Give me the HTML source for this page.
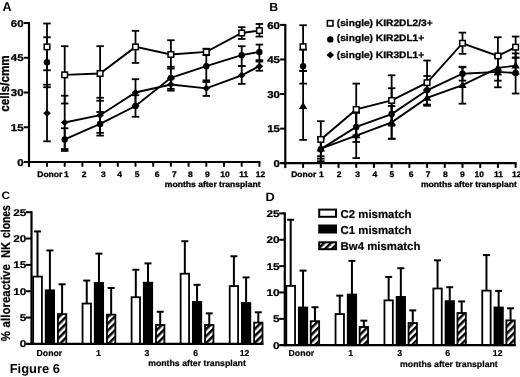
<!DOCTYPE html>
<html><head><meta charset="utf-8"><title>Figure 6</title>
<style>html,body{margin:0;padding:0;background:#fff;}svg{display:block;filter:grayscale(1);text-rendering:geometricPrecision;}</style></head>
<body>
<svg width="520" height="377" viewBox="0 0 520 377" font-family="Liberation Sans, sans-serif" font-weight="bold" fill="#000"><style>.s text, text.s{stroke:#000;stroke-width:0.3px;stroke-linejoin:round}text.s2{stroke:#000;stroke-width:0.2px;stroke-linejoin:round}</style>
<defs><pattern id="hatch" patternUnits="userSpaceOnUse" width="4.9" height="4.9" patternTransform="rotate(-45)"><rect width="4.9" height="4.9" fill="#fff"/><rect y="0" width="4.9" height="2.5" fill="#000"/></pattern><pattern id="hatch2" patternUnits="userSpaceOnUse" width="4.9" height="4.9" patternTransform="rotate(-45) translate(0,2.87)"><rect width="4.9" height="4.9" fill="#fff"/><rect y="0" width="4.9" height="2.5" fill="#000"/></pattern></defs>
<rect width="520" height="377" fill="#fff"/>
<g class="s">
<line x1="47.00" y1="84.71" x2="47.00" y2="141.32" stroke="#000" stroke-width="1.8" />
<line x1="43.25" y1="84.71" x2="50.75" y2="84.71" stroke="#000" stroke-width="1.8" />
<line x1="43.25" y1="141.32" x2="50.75" y2="141.32" stroke="#000" stroke-width="1.8" />
<line x1="64.70" y1="95.71" x2="64.70" y2="149.11" stroke="#000" stroke-width="1.8" />
<line x1="60.95" y1="95.71" x2="68.45" y2="95.71" stroke="#000" stroke-width="1.8" />
<line x1="60.95" y1="149.11" x2="68.45" y2="149.11" stroke="#000" stroke-width="1.8" />
<line x1="100.10" y1="97.77" x2="100.10" y2="132.84" stroke="#000" stroke-width="1.8" />
<line x1="96.35" y1="97.77" x2="103.85" y2="97.77" stroke="#000" stroke-width="1.8" />
<line x1="96.35" y1="132.84" x2="103.85" y2="132.84" stroke="#000" stroke-width="1.8" />
<line x1="135.50" y1="79.20" x2="135.50" y2="105.79" stroke="#000" stroke-width="1.8" />
<line x1="131.75" y1="79.20" x2="139.25" y2="79.20" stroke="#000" stroke-width="1.8" />
<line x1="131.75" y1="105.79" x2="139.25" y2="105.79" stroke="#000" stroke-width="1.8" />
<line x1="170.90" y1="78.52" x2="170.90" y2="90.66" stroke="#000" stroke-width="1.8" />
<line x1="167.15" y1="78.52" x2="174.65" y2="78.52" stroke="#000" stroke-width="1.8" />
<line x1="167.15" y1="90.66" x2="174.65" y2="90.66" stroke="#000" stroke-width="1.8" />
<line x1="206.30" y1="81.96" x2="206.30" y2="95.94" stroke="#000" stroke-width="1.8" />
<line x1="202.55" y1="81.96" x2="210.05" y2="81.96" stroke="#000" stroke-width="1.8" />
<line x1="202.55" y1="95.94" x2="210.05" y2="95.94" stroke="#000" stroke-width="1.8" />
<line x1="241.70" y1="66.14" x2="241.70" y2="83.90" stroke="#000" stroke-width="1.8" />
<line x1="237.95" y1="66.14" x2="245.45" y2="66.14" stroke="#000" stroke-width="1.8" />
<line x1="237.95" y1="83.90" x2="245.45" y2="83.90" stroke="#000" stroke-width="1.8" />
<line x1="259.40" y1="61.56" x2="259.40" y2="70.72" stroke="#000" stroke-width="1.8" />
<line x1="255.65" y1="61.56" x2="263.15" y2="61.56" stroke="#000" stroke-width="1.8" />
<line x1="255.65" y1="70.72" x2="263.15" y2="70.72" stroke="#000" stroke-width="1.8" />
<line x1="47.00" y1="37.26" x2="47.00" y2="87.23" stroke="#000" stroke-width="1.8" />
<line x1="43.25" y1="37.26" x2="50.75" y2="37.26" stroke="#000" stroke-width="1.8" />
<line x1="43.25" y1="87.23" x2="50.75" y2="87.23" stroke="#000" stroke-width="1.8" />
<line x1="64.70" y1="128.25" x2="64.70" y2="150.94" stroke="#000" stroke-width="1.8" />
<line x1="60.95" y1="128.25" x2="68.45" y2="128.25" stroke="#000" stroke-width="1.8" />
<line x1="60.95" y1="150.94" x2="68.45" y2="150.94" stroke="#000" stroke-width="1.8" />
<line x1="100.10" y1="111.98" x2="100.10" y2="135.59" stroke="#000" stroke-width="1.8" />
<line x1="96.35" y1="111.98" x2="103.85" y2="111.98" stroke="#000" stroke-width="1.8" />
<line x1="96.35" y1="135.59" x2="103.85" y2="135.59" stroke="#000" stroke-width="1.8" />
<line x1="135.50" y1="95.25" x2="135.50" y2="116.79" stroke="#000" stroke-width="1.8" />
<line x1="131.75" y1="95.25" x2="139.25" y2="95.25" stroke="#000" stroke-width="1.8" />
<line x1="131.75" y1="116.79" x2="139.25" y2="116.79" stroke="#000" stroke-width="1.8" />
<line x1="170.90" y1="66.83" x2="170.90" y2="88.83" stroke="#000" stroke-width="1.8" />
<line x1="167.15" y1="66.83" x2="174.65" y2="66.83" stroke="#000" stroke-width="1.8" />
<line x1="167.15" y1="88.83" x2="174.65" y2="88.83" stroke="#000" stroke-width="1.8" />
<line x1="206.30" y1="51.93" x2="206.30" y2="80.35" stroke="#000" stroke-width="1.8" />
<line x1="202.55" y1="51.93" x2="210.05" y2="51.93" stroke="#000" stroke-width="1.8" />
<line x1="202.55" y1="80.35" x2="210.05" y2="80.35" stroke="#000" stroke-width="1.8" />
<line x1="241.70" y1="46.20" x2="241.70" y2="66.07" stroke="#000" stroke-width="1.8" />
<line x1="237.95" y1="46.20" x2="245.45" y2="46.20" stroke="#000" stroke-width="1.8" />
<line x1="237.95" y1="66.07" x2="245.45" y2="66.07" stroke="#000" stroke-width="1.8" />
<line x1="259.40" y1="44.60" x2="259.40" y2="60.18" stroke="#000" stroke-width="1.8" />
<line x1="255.65" y1="44.60" x2="263.15" y2="44.60" stroke="#000" stroke-width="1.8" />
<line x1="255.65" y1="60.18" x2="263.15" y2="60.18" stroke="#000" stroke-width="1.8" />
<line x1="47.00" y1="23.51" x2="47.00" y2="70.27" stroke="#000" stroke-width="1.8" />
<line x1="43.25" y1="23.51" x2="50.75" y2="23.51" stroke="#000" stroke-width="1.8" />
<line x1="43.25" y1="70.27" x2="50.75" y2="70.27" stroke="#000" stroke-width="1.8" />
<line x1="64.70" y1="46.20" x2="64.70" y2="103.50" stroke="#000" stroke-width="1.8" />
<line x1="60.95" y1="46.20" x2="68.45" y2="46.20" stroke="#000" stroke-width="1.8" />
<line x1="60.95" y1="103.50" x2="68.45" y2="103.50" stroke="#000" stroke-width="1.8" />
<line x1="100.10" y1="46.20" x2="100.10" y2="100.75" stroke="#000" stroke-width="1.8" />
<line x1="96.35" y1="46.20" x2="103.85" y2="46.20" stroke="#000" stroke-width="1.8" />
<line x1="96.35" y1="100.75" x2="103.85" y2="100.75" stroke="#000" stroke-width="1.8" />
<line x1="135.50" y1="30.84" x2="135.50" y2="62.93" stroke="#000" stroke-width="1.8" />
<line x1="131.75" y1="30.84" x2="139.25" y2="30.84" stroke="#000" stroke-width="1.8" />
<line x1="131.75" y1="62.93" x2="139.25" y2="62.93" stroke="#000" stroke-width="1.8" />
<line x1="170.90" y1="40.24" x2="170.90" y2="68.66" stroke="#000" stroke-width="1.8" />
<line x1="167.15" y1="40.24" x2="174.65" y2="40.24" stroke="#000" stroke-width="1.8" />
<line x1="167.15" y1="68.66" x2="174.65" y2="68.66" stroke="#000" stroke-width="1.8" />
<line x1="206.30" y1="48.72" x2="206.30" y2="55.14" stroke="#000" stroke-width="1.8" />
<line x1="202.55" y1="48.72" x2="210.05" y2="48.72" stroke="#000" stroke-width="1.8" />
<line x1="202.55" y1="55.14" x2="210.05" y2="55.14" stroke="#000" stroke-width="1.8" />
<line x1="241.70" y1="27.18" x2="241.70" y2="38.98" stroke="#000" stroke-width="1.8" />
<line x1="237.95" y1="27.18" x2="245.45" y2="27.18" stroke="#000" stroke-width="1.8" />
<line x1="237.95" y1="38.98" x2="245.45" y2="38.98" stroke="#000" stroke-width="1.8" />
<line x1="259.40" y1="23.97" x2="259.40" y2="36.57" stroke="#000" stroke-width="1.8" />
<line x1="255.65" y1="23.97" x2="263.15" y2="23.97" stroke="#000" stroke-width="1.8" />
<line x1="255.65" y1="36.57" x2="263.15" y2="36.57" stroke="#000" stroke-width="1.8" />
<polyline points="64.70,122.52 100.10,115.19 135.50,92.50 170.90,84.48 206.30,88.37 241.70,75.31 259.40,66.14" fill="none" stroke="#000" stroke-width="1.9"/>
<polyline points="64.70,139.48 100.10,123.90 135.50,106.02 170.90,77.83 206.30,66.14 241.70,55.14 259.40,51.93" fill="none" stroke="#000" stroke-width="1.9"/>
<polyline points="64.70,74.85 100.10,73.47 135.50,46.89 170.90,54.45 206.30,51.93 241.70,33.02 259.40,30.61" fill="none" stroke="#000" stroke-width="1.9"/>
<path d="M47.00,109.63 L50.80,113.13 L47.00,116.63 L43.20,113.13Z" fill="#000"/>
<path d="M64.70,119.02 L68.50,122.52 L64.70,126.02 L60.90,122.52Z" fill="#000"/>
<path d="M100.10,111.69 L103.90,115.19 L100.10,118.69 L96.30,115.19Z" fill="#000"/>
<path d="M135.50,89.00 L139.30,92.50 L135.50,96.00 L131.70,92.50Z" fill="#000"/>
<path d="M170.90,80.98 L174.70,84.48 L170.90,87.98 L167.10,84.48Z" fill="#000"/>
<path d="M206.30,84.87 L210.10,88.37 L206.30,91.87 L202.50,88.37Z" fill="#000"/>
<path d="M241.70,71.81 L245.50,75.31 L241.70,78.81 L237.90,75.31Z" fill="#000"/>
<path d="M259.40,62.64 L263.20,66.14 L259.40,69.64 L255.60,66.14Z" fill="#000"/>
<circle cx="47.00" cy="62.24" r="3.2" fill="#000"/>
<circle cx="64.70" cy="139.48" r="3.2" fill="#000"/>
<circle cx="100.10" cy="123.90" r="3.2" fill="#000"/>
<circle cx="135.50" cy="106.02" r="3.2" fill="#000"/>
<circle cx="170.90" cy="77.83" r="3.2" fill="#000"/>
<circle cx="206.30" cy="66.14" r="3.2" fill="#000"/>
<circle cx="241.70" cy="55.14" r="3.2" fill="#000"/>
<circle cx="259.40" cy="51.93" r="3.2" fill="#000"/>
<rect x="44.20" y="44.14" width="5.6" height="5.5" fill="#fff" stroke="#000" stroke-width="1.5"/>
<rect x="61.90" y="72.10" width="5.6" height="5.5" fill="#fff" stroke="#000" stroke-width="1.5"/>
<rect x="97.30" y="70.72" width="5.6" height="5.5" fill="#fff" stroke="#000" stroke-width="1.5"/>
<rect x="132.70" y="44.14" width="5.6" height="5.5" fill="#fff" stroke="#000" stroke-width="1.5"/>
<rect x="168.10" y="51.70" width="5.6" height="5.5" fill="#fff" stroke="#000" stroke-width="1.5"/>
<rect x="203.50" y="49.18" width="5.6" height="5.5" fill="#fff" stroke="#000" stroke-width="1.5"/>
<rect x="238.90" y="30.27" width="5.6" height="5.5" fill="#fff" stroke="#000" stroke-width="1.5"/>
<rect x="256.60" y="27.86" width="5.6" height="5.5" fill="#fff" stroke="#000" stroke-width="1.5"/>
<line x1="29.00" y1="22.04" x2="29.00" y2="166.90" stroke="#000" stroke-width="2.2" />
<line x1="23.80" y1="162.00" x2="260.40" y2="162.00" stroke="#000" stroke-width="2.2" />
<text transform="translate(23.60,165.60) scale(1.15,1)" font-size="9.96" text-anchor="end" >0</text>
<line x1="23.80" y1="127.26" x2="29.00" y2="127.26" stroke="#000" stroke-width="2.0" />
<text transform="translate(23.60,130.86) scale(1.15,1)" font-size="9.96" text-anchor="end" >15</text>
<line x1="23.80" y1="92.52" x2="29.00" y2="92.52" stroke="#000" stroke-width="2.0" />
<text transform="translate(23.60,96.12) scale(1.15,1)" font-size="9.96" text-anchor="end" >30</text>
<line x1="23.80" y1="57.78" x2="29.00" y2="57.78" stroke="#000" stroke-width="2.0" />
<text transform="translate(23.60,61.38) scale(1.15,1)" font-size="9.96" text-anchor="end" >45</text>
<line x1="23.80" y1="23.04" x2="29.00" y2="23.04" stroke="#000" stroke-width="2.0" />
<text transform="translate(23.60,26.64) scale(1.15,1)" font-size="9.96" text-anchor="end" >60</text>
<line x1="47.00" y1="162.00" x2="47.00" y2="166.70" stroke="#000" stroke-width="2.0" />
<text transform="translate(49.80,177.30) scale(1.06,1)" font-size="8.02" text-anchor="middle" >Donor</text>
<line x1="64.70" y1="162.00" x2="64.70" y2="166.70" stroke="#000" stroke-width="2.0" />
<text transform="translate(66.45,177.30) scale(1.06,1)" font-size="8.02" text-anchor="middle" >1</text>
<line x1="82.40" y1="162.00" x2="82.40" y2="166.70" stroke="#000" stroke-width="2.0" />
<text transform="translate(84.15,177.30) scale(1.06,1)" font-size="8.02" text-anchor="middle" >2</text>
<line x1="100.10" y1="162.00" x2="100.10" y2="166.70" stroke="#000" stroke-width="2.0" />
<text transform="translate(103.35,177.30) scale(1.06,1)" font-size="8.02" text-anchor="middle" >3</text>
<line x1="117.80" y1="162.00" x2="117.80" y2="166.70" stroke="#000" stroke-width="2.0" />
<text transform="translate(119.55,177.30) scale(1.06,1)" font-size="8.02" text-anchor="middle" >4</text>
<line x1="135.50" y1="162.00" x2="135.50" y2="166.70" stroke="#000" stroke-width="2.0" />
<text transform="translate(137.00,177.30) scale(1.06,1)" font-size="8.02" text-anchor="middle" >5</text>
<line x1="153.20" y1="162.00" x2="153.20" y2="166.70" stroke="#000" stroke-width="2.0" />
<text transform="translate(157.20,177.30) scale(1.06,1)" font-size="8.02" text-anchor="middle" >6</text>
<line x1="170.90" y1="162.00" x2="170.90" y2="166.70" stroke="#000" stroke-width="2.0" />
<text transform="translate(174.40,177.30) scale(1.06,1)" font-size="8.02" text-anchor="middle" >7</text>
<line x1="188.60" y1="162.00" x2="188.60" y2="166.70" stroke="#000" stroke-width="2.0" />
<text transform="translate(190.35,177.30) scale(1.06,1)" font-size="8.02" text-anchor="middle" >8</text>
<line x1="206.30" y1="162.00" x2="206.30" y2="166.70" stroke="#000" stroke-width="2.0" />
<text transform="translate(207.30,177.30) scale(1.06,1)" font-size="8.02" text-anchor="middle" >9</text>
<line x1="224.00" y1="162.00" x2="224.00" y2="166.70" stroke="#000" stroke-width="2.0" />
<text transform="translate(225.00,177.30) scale(1.06,1)" font-size="8.02" text-anchor="middle" >10</text>
<line x1="241.70" y1="162.00" x2="241.70" y2="166.70" stroke="#000" stroke-width="2.0" />
<text transform="translate(243.70,177.30) scale(1.06,1)" font-size="8.02" text-anchor="middle" >11</text>
<line x1="259.40" y1="162.00" x2="259.40" y2="166.70" stroke="#000" stroke-width="2.0" />
<text transform="translate(260.40,177.30) scale(1.06,1)" font-size="8.02" text-anchor="middle" >12</text>
<text transform="translate(260.60,187.20) scale(1.06,1)" font-size="8.11" text-anchor="end" >months after transplant</text>
<line x1="303.10" y1="70.92" x2="303.10" y2="139.90" stroke="#000" stroke-width="1.8" />
<line x1="299.35" y1="70.92" x2="306.85" y2="70.92" stroke="#000" stroke-width="1.8" />
<line x1="299.35" y1="139.90" x2="306.85" y2="139.90" stroke="#000" stroke-width="1.8" />
<line x1="320.81" y1="137.13" x2="320.81" y2="161.19" stroke="#000" stroke-width="1.8" />
<line x1="317.06" y1="137.13" x2="324.56" y2="137.13" stroke="#000" stroke-width="1.8" />
<line x1="317.06" y1="161.19" x2="324.56" y2="161.19" stroke="#000" stroke-width="1.8" />
<line x1="356.23" y1="112.91" x2="356.23" y2="158.12" stroke="#000" stroke-width="1.8" />
<line x1="352.48" y1="112.91" x2="359.98" y2="112.91" stroke="#000" stroke-width="1.8" />
<line x1="352.48" y1="158.12" x2="359.98" y2="158.12" stroke="#000" stroke-width="1.8" />
<line x1="391.65" y1="105.99" x2="391.65" y2="138.75" stroke="#000" stroke-width="1.8" />
<line x1="387.90" y1="105.99" x2="395.40" y2="105.99" stroke="#000" stroke-width="1.8" />
<line x1="387.90" y1="138.75" x2="395.40" y2="138.75" stroke="#000" stroke-width="1.8" />
<line x1="427.07" y1="90.07" x2="427.07" y2="105.76" stroke="#000" stroke-width="1.8" />
<line x1="423.32" y1="90.07" x2="430.82" y2="90.07" stroke="#000" stroke-width="1.8" />
<line x1="423.32" y1="105.76" x2="430.82" y2="105.76" stroke="#000" stroke-width="1.8" />
<line x1="462.49" y1="67.23" x2="462.49" y2="103.68" stroke="#000" stroke-width="1.8" />
<line x1="458.74" y1="67.23" x2="466.24" y2="67.23" stroke="#000" stroke-width="1.8" />
<line x1="458.74" y1="103.68" x2="466.24" y2="103.68" stroke="#000" stroke-width="1.8" />
<line x1="497.91" y1="55.23" x2="497.91" y2="80.61" stroke="#000" stroke-width="1.8" />
<line x1="494.16" y1="55.23" x2="501.66" y2="55.23" stroke="#000" stroke-width="1.8" />
<line x1="494.16" y1="80.61" x2="501.66" y2="80.61" stroke="#000" stroke-width="1.8" />
<line x1="515.62" y1="57.54" x2="515.62" y2="73.69" stroke="#000" stroke-width="1.8" />
<line x1="511.87" y1="57.54" x2="519.37" y2="57.54" stroke="#000" stroke-width="1.8" />
<line x1="511.87" y1="73.69" x2="519.37" y2="73.69" stroke="#000" stroke-width="1.8" />
<line x1="303.10" y1="49.70" x2="303.10" y2="83.61" stroke="#000" stroke-width="1.8" />
<line x1="299.35" y1="49.70" x2="306.85" y2="49.70" stroke="#000" stroke-width="1.8" />
<line x1="299.35" y1="83.61" x2="306.85" y2="83.61" stroke="#000" stroke-width="1.8" />
<line x1="320.81" y1="138.75" x2="320.81" y2="158.70" stroke="#000" stroke-width="1.8" />
<line x1="317.06" y1="138.75" x2="324.56" y2="138.75" stroke="#000" stroke-width="1.8" />
<line x1="317.06" y1="158.70" x2="324.56" y2="158.70" stroke="#000" stroke-width="1.8" />
<line x1="356.23" y1="111.98" x2="356.23" y2="141.98" stroke="#000" stroke-width="1.8" />
<line x1="352.48" y1="111.98" x2="359.98" y2="111.98" stroke="#000" stroke-width="1.8" />
<line x1="352.48" y1="141.98" x2="359.98" y2="141.98" stroke="#000" stroke-width="1.8" />
<line x1="391.65" y1="88.22" x2="391.65" y2="138.75" stroke="#000" stroke-width="1.8" />
<line x1="387.90" y1="88.22" x2="395.40" y2="88.22" stroke="#000" stroke-width="1.8" />
<line x1="387.90" y1="138.75" x2="395.40" y2="138.75" stroke="#000" stroke-width="1.8" />
<line x1="427.07" y1="76.00" x2="427.07" y2="104.60" stroke="#000" stroke-width="1.8" />
<line x1="423.32" y1="76.00" x2="430.82" y2="76.00" stroke="#000" stroke-width="1.8" />
<line x1="423.32" y1="104.60" x2="430.82" y2="104.60" stroke="#000" stroke-width="1.8" />
<line x1="462.49" y1="66.77" x2="462.49" y2="80.61" stroke="#000" stroke-width="1.8" />
<line x1="458.74" y1="66.77" x2="466.24" y2="66.77" stroke="#000" stroke-width="1.8" />
<line x1="458.74" y1="80.61" x2="466.24" y2="80.61" stroke="#000" stroke-width="1.8" />
<line x1="497.91" y1="57.31" x2="497.91" y2="87.30" stroke="#000" stroke-width="1.8" />
<line x1="494.16" y1="57.31" x2="501.66" y2="57.31" stroke="#000" stroke-width="1.8" />
<line x1="494.16" y1="87.30" x2="501.66" y2="87.30" stroke="#000" stroke-width="1.8" />
<line x1="515.62" y1="53.39" x2="515.62" y2="93.53" stroke="#000" stroke-width="1.8" />
<line x1="511.87" y1="53.39" x2="519.37" y2="53.39" stroke="#000" stroke-width="1.8" />
<line x1="511.87" y1="93.53" x2="519.37" y2="93.53" stroke="#000" stroke-width="1.8" />
<line x1="303.10" y1="25.24" x2="303.10" y2="70.92" stroke="#000" stroke-width="1.8" />
<line x1="299.35" y1="25.24" x2="306.85" y2="25.24" stroke="#000" stroke-width="1.8" />
<line x1="299.35" y1="70.92" x2="306.85" y2="70.92" stroke="#000" stroke-width="1.8" />
<line x1="320.81" y1="121.21" x2="320.81" y2="156.21" stroke="#000" stroke-width="1.8" />
<line x1="317.06" y1="121.21" x2="324.56" y2="121.21" stroke="#000" stroke-width="1.8" />
<line x1="317.06" y1="156.21" x2="324.56" y2="156.21" stroke="#000" stroke-width="1.8" />
<line x1="356.23" y1="83.61" x2="356.23" y2="135.29" stroke="#000" stroke-width="1.8" />
<line x1="352.48" y1="83.61" x2="359.98" y2="83.61" stroke="#000" stroke-width="1.8" />
<line x1="352.48" y1="135.29" x2="359.98" y2="135.29" stroke="#000" stroke-width="1.8" />
<line x1="391.65" y1="75.30" x2="391.65" y2="125.60" stroke="#000" stroke-width="1.8" />
<line x1="387.90" y1="75.30" x2="395.40" y2="75.30" stroke="#000" stroke-width="1.8" />
<line x1="387.90" y1="125.60" x2="395.40" y2="125.60" stroke="#000" stroke-width="1.8" />
<line x1="427.07" y1="60.54" x2="427.07" y2="104.83" stroke="#000" stroke-width="1.8" />
<line x1="423.32" y1="60.54" x2="430.82" y2="60.54" stroke="#000" stroke-width="1.8" />
<line x1="423.32" y1="104.83" x2="430.82" y2="104.83" stroke="#000" stroke-width="1.8" />
<line x1="462.49" y1="32.62" x2="462.49" y2="53.85" stroke="#000" stroke-width="1.8" />
<line x1="458.74" y1="32.62" x2="466.24" y2="32.62" stroke="#000" stroke-width="1.8" />
<line x1="458.74" y1="53.85" x2="466.24" y2="53.85" stroke="#000" stroke-width="1.8" />
<line x1="497.91" y1="37.24" x2="497.91" y2="74.61" stroke="#000" stroke-width="1.8" />
<line x1="494.16" y1="37.24" x2="501.66" y2="37.24" stroke="#000" stroke-width="1.8" />
<line x1="494.16" y1="74.61" x2="501.66" y2="74.61" stroke="#000" stroke-width="1.8" />
<line x1="515.62" y1="36.55" x2="515.62" y2="57.77" stroke="#000" stroke-width="1.8" />
<line x1="511.87" y1="36.55" x2="519.37" y2="36.55" stroke="#000" stroke-width="1.8" />
<line x1="511.87" y1="57.77" x2="519.37" y2="57.77" stroke="#000" stroke-width="1.8" />
<polyline points="320.81,148.67 356.23,135.52 391.65,122.37 427.07,97.91 462.49,85.22 497.91,67.92 515.62,65.61" fill="none" stroke="#000" stroke-width="1.9"/>
<polyline points="320.81,149.13 356.23,126.98 391.65,114.06 427.07,90.30 462.49,73.69 497.91,71.84 515.62,73.00" fill="none" stroke="#000" stroke-width="1.9"/>
<polyline points="320.81,139.44 356.23,109.45 391.65,100.45 427.07,82.69 462.49,43.24 497.91,55.92 515.62,47.16" fill="none" stroke="#000" stroke-width="1.9"/>
<path d="M303.10,102.02 L307.30,109.02 L298.90,109.02Z" fill="#000"/>
<path d="M320.81,144.47 L325.01,151.47 L316.61,151.47Z" fill="#000"/>
<path d="M356.23,131.32 L360.43,138.32 L352.03,138.32Z" fill="#000"/>
<path d="M391.65,118.17 L395.85,125.17 L387.45,125.17Z" fill="#000"/>
<path d="M427.07,93.71 L431.27,100.71 L422.87,100.71Z" fill="#000"/>
<path d="M462.49,81.02 L466.69,88.02 L458.29,88.02Z" fill="#000"/>
<path d="M497.91,63.72 L502.11,70.72 L493.71,70.72Z" fill="#000"/>
<path d="M515.62,61.41 L519.82,68.41 L511.42,68.41Z" fill="#000"/>
<circle cx="303.10" cy="66.31" r="3.2" fill="#000"/>
<circle cx="320.81" cy="149.13" r="3.2" fill="#000"/>
<circle cx="356.23" cy="126.98" r="3.2" fill="#000"/>
<circle cx="391.65" cy="114.06" r="3.2" fill="#000"/>
<circle cx="427.07" cy="90.30" r="3.2" fill="#000"/>
<circle cx="462.49" cy="73.69" r="3.2" fill="#000"/>
<circle cx="497.91" cy="71.84" r="3.2" fill="#000"/>
<circle cx="515.62" cy="73.00" r="3.2" fill="#000"/>
<rect x="300.30" y="43.95" width="5.6" height="5.5" fill="#fff" stroke="#000" stroke-width="1.5"/>
<rect x="318.01" y="136.69" width="5.6" height="5.5" fill="#fff" stroke="#000" stroke-width="1.5"/>
<rect x="353.43" y="106.70" width="5.6" height="5.5" fill="#fff" stroke="#000" stroke-width="1.5"/>
<rect x="388.85" y="97.70" width="5.6" height="5.5" fill="#fff" stroke="#000" stroke-width="1.5"/>
<rect x="424.27" y="79.94" width="5.6" height="5.5" fill="#fff" stroke="#000" stroke-width="1.5"/>
<rect x="459.69" y="40.49" width="5.6" height="5.5" fill="#fff" stroke="#000" stroke-width="1.5"/>
<rect x="495.11" y="53.17" width="5.6" height="5.5" fill="#fff" stroke="#000" stroke-width="1.5"/>
<rect x="512.82" y="44.41" width="5.6" height="5.5" fill="#fff" stroke="#000" stroke-width="1.5"/>
<line x1="285.30" y1="23.90" x2="285.30" y2="168.10" stroke="#000" stroke-width="2.2" />
<line x1="280.10" y1="163.20" x2="516.62" y2="163.20" stroke="#000" stroke-width="2.2" />
<text transform="translate(279.90,166.80) scale(1.15,1)" font-size="9.96" text-anchor="end" >0</text>
<line x1="280.10" y1="128.62" x2="285.30" y2="128.62" stroke="#000" stroke-width="2.0" />
<text transform="translate(279.90,132.22) scale(1.15,1)" font-size="9.96" text-anchor="end" >15</text>
<line x1="280.10" y1="94.05" x2="285.30" y2="94.05" stroke="#000" stroke-width="2.0" />
<text transform="translate(279.90,97.65) scale(1.15,1)" font-size="9.96" text-anchor="end" >30</text>
<line x1="280.10" y1="59.47" x2="285.30" y2="59.47" stroke="#000" stroke-width="2.0" />
<text transform="translate(279.90,63.07) scale(1.15,1)" font-size="9.96" text-anchor="end" >45</text>
<line x1="280.10" y1="24.90" x2="285.30" y2="24.90" stroke="#000" stroke-width="2.0" />
<text transform="translate(279.90,28.50) scale(1.15,1)" font-size="9.96" text-anchor="end" >60</text>
<line x1="303.10" y1="163.20" x2="303.10" y2="167.90" stroke="#000" stroke-width="2.0" />
<text transform="translate(303.70,177.30) scale(1.06,1)" font-size="8.02" text-anchor="middle" >Donor</text>
<line x1="320.81" y1="163.20" x2="320.81" y2="167.90" stroke="#000" stroke-width="2.0" />
<text transform="translate(321.31,177.30) scale(1.06,1)" font-size="8.02" text-anchor="middle" >1</text>
<line x1="338.52" y1="163.20" x2="338.52" y2="167.90" stroke="#000" stroke-width="2.0" />
<text transform="translate(339.02,177.30) scale(1.06,1)" font-size="8.02" text-anchor="middle" >2</text>
<line x1="356.23" y1="163.20" x2="356.23" y2="167.90" stroke="#000" stroke-width="2.0" />
<text transform="translate(357.73,177.30) scale(1.06,1)" font-size="8.02" text-anchor="middle" >3</text>
<line x1="373.94" y1="163.20" x2="373.94" y2="167.90" stroke="#000" stroke-width="2.0" />
<text transform="translate(374.94,177.30) scale(1.06,1)" font-size="8.02" text-anchor="middle" >4</text>
<line x1="391.65" y1="163.20" x2="391.65" y2="167.90" stroke="#000" stroke-width="2.0" />
<text transform="translate(391.95,177.30) scale(1.06,1)" font-size="8.02" text-anchor="middle" >5</text>
<line x1="409.36" y1="163.20" x2="409.36" y2="167.90" stroke="#000" stroke-width="2.0" />
<text transform="translate(411.06,177.30) scale(1.06,1)" font-size="8.02" text-anchor="middle" >6</text>
<line x1="427.07" y1="163.20" x2="427.07" y2="167.90" stroke="#000" stroke-width="2.0" />
<text transform="translate(428.07,177.30) scale(1.06,1)" font-size="8.02" text-anchor="middle" >7</text>
<line x1="444.78" y1="163.20" x2="444.78" y2="167.90" stroke="#000" stroke-width="2.0" />
<text transform="translate(445.28,177.30) scale(1.06,1)" font-size="8.02" text-anchor="middle" >8</text>
<line x1="462.49" y1="163.20" x2="462.49" y2="167.90" stroke="#000" stroke-width="2.0" />
<text transform="translate(462.29,177.30) scale(1.06,1)" font-size="8.02" text-anchor="middle" >9</text>
<line x1="480.20" y1="163.20" x2="480.20" y2="167.90" stroke="#000" stroke-width="2.0" />
<text transform="translate(479.30,177.30) scale(1.06,1)" font-size="8.02" text-anchor="middle" >10</text>
<line x1="497.91" y1="163.20" x2="497.91" y2="167.90" stroke="#000" stroke-width="2.0" />
<text transform="translate(498.41,177.30) scale(1.06,1)" font-size="8.02" text-anchor="middle" >11</text>
<line x1="515.62" y1="163.20" x2="515.62" y2="167.90" stroke="#000" stroke-width="2.0" />
<text transform="translate(516.62,177.30) scale(1.06,1)" font-size="8.02" text-anchor="middle" >12</text>
<text transform="translate(516.82,187.20) scale(1.06,1)" font-size="8.11" text-anchor="end" >months after transplant</text>
</g>
<text x="2.50" y="10.90" font-size="12.60" text-anchor="start" >A</text>
<text transform="translate(269.20,10.60) scale(1.06,1)" font-size="11.70" text-anchor="start" >B</text>
<text transform="translate(1.50,199.20) scale(1.1,1)" font-size="10.73" text-anchor="start" >C</text>
<text transform="translate(265.40,201.40) scale(1.06,1)" font-size="12.08" text-anchor="start" >D</text>
<text transform="translate(9.1,83.6) rotate(-90) scale(1,1.12)" font-size="11.7" text-anchor="middle" class="s">cells/cmm</text>
<text transform="translate(10.0,341.2) rotate(-90) scale(1,1.120)" font-size="11.4" class="s2">%</text>
<text transform="translate(10.0,327.4) rotate(-90) scale(1,1.110)" font-size="11.5" class="s2">alloreactive</text>
<text transform="translate(10.0,258.0) rotate(-90) scale(1,1.140)" font-size="11.2" class="s2">NK</text>
<text transform="translate(10.0,237.9) rotate(-90) scale(1,1.240)" font-size="10.3" class="s2">clones</text>
<rect x="327.40" y="20.55" width="5.6" height="5.5" fill="#fff" stroke="#000" stroke-width="1.5"/>
<circle cx="330.30" cy="39.40" r="3.2" fill="#000"/>
<path d="M330.30,51.40 L334.10,54.90 L330.30,58.40 L326.50,54.90Z" fill="#000"/>
<text transform="translate(336.80,25.80) scale(1.09,1)" font-size="9.36" text-anchor="start" class="s">(single) KIR2DL2/3+</text>
<text transform="translate(336.80,41.40) scale(1.09,1)" font-size="9.36" text-anchor="start" class="s">(single) KIR2DL1+</text>
<text transform="translate(336.80,57.50) scale(1.09,1)" font-size="9.36" text-anchor="start" class="s">(single) KIR3DL1+</text>
<line x1="37.52" y1="231.43" x2="37.52" y2="276.60" stroke="#000" stroke-width="2.0" />
<line x1="34.02" y1="231.43" x2="41.02" y2="231.43" stroke="#000" stroke-width="2.0" />
<rect x="33.15" y="276.60" width="8.75" height="67.30" fill="#fff" stroke="#000" stroke-width="1.8"/>
<line x1="49.90" y1="250.46" x2="49.90" y2="290.34" stroke="#000" stroke-width="2.0" />
<line x1="46.40" y1="250.46" x2="53.40" y2="250.46" stroke="#000" stroke-width="2.0" />
<rect x="45.70" y="290.34" width="8.40" height="53.56" fill="#000" stroke="#000" stroke-width="1.8"/>
<line x1="62.10" y1="284.28" x2="62.10" y2="314.13" stroke="#000" stroke-width="2.0" />
<line x1="58.60" y1="284.28" x2="65.60" y2="284.28" stroke="#000" stroke-width="2.0" />
<rect x="57.90" y="314.13" width="8.40" height="29.77" fill="url(#hatch)" stroke="#000" stroke-width="1.8"/>
<line x1="86.75" y1="280.58" x2="86.75" y2="303.56" stroke="#000" stroke-width="2.0" />
<line x1="83.25" y1="280.58" x2="90.25" y2="280.58" stroke="#000" stroke-width="2.0" />
<rect x="82.55" y="303.56" width="8.40" height="40.34" fill="#fff" stroke="#000" stroke-width="1.8"/>
<line x1="98.95" y1="253.63" x2="98.95" y2="282.94" stroke="#000" stroke-width="2.0" />
<line x1="95.45" y1="253.63" x2="102.45" y2="253.63" stroke="#000" stroke-width="2.0" />
<rect x="94.75" y="282.94" width="8.40" height="60.96" fill="#000" stroke="#000" stroke-width="1.8"/>
<line x1="111.15" y1="287.98" x2="111.15" y2="314.65" stroke="#000" stroke-width="2.0" />
<line x1="107.65" y1="287.98" x2="114.65" y2="287.98" stroke="#000" stroke-width="2.0" />
<rect x="106.95" y="314.65" width="8.40" height="29.25" fill="url(#hatch)" stroke="#000" stroke-width="1.8"/>
<line x1="135.80" y1="269.75" x2="135.80" y2="297.21" stroke="#000" stroke-width="2.0" />
<line x1="132.30" y1="269.75" x2="139.30" y2="269.75" stroke="#000" stroke-width="2.0" />
<rect x="131.60" y="297.21" width="8.40" height="46.69" fill="#fff" stroke="#000" stroke-width="1.8"/>
<line x1="148.00" y1="263.40" x2="148.00" y2="282.68" stroke="#000" stroke-width="2.0" />
<line x1="144.50" y1="263.40" x2="151.50" y2="263.40" stroke="#000" stroke-width="2.0" />
<rect x="143.80" y="282.68" width="8.40" height="61.22" fill="#000" stroke="#000" stroke-width="1.8"/>
<line x1="160.20" y1="311.76" x2="160.20" y2="324.96" stroke="#000" stroke-width="2.0" />
<line x1="156.70" y1="311.76" x2="163.70" y2="311.76" stroke="#000" stroke-width="2.0" />
<rect x="156.00" y="324.96" width="8.40" height="18.94" fill="url(#hatch)" stroke="#000" stroke-width="1.8"/>
<line x1="184.85" y1="241.21" x2="184.85" y2="273.70" stroke="#000" stroke-width="2.0" />
<line x1="181.35" y1="241.21" x2="188.35" y2="241.21" stroke="#000" stroke-width="2.0" />
<rect x="180.65" y="273.70" width="8.40" height="70.20" fill="#fff" stroke="#000" stroke-width="1.8"/>
<line x1="197.05" y1="284.81" x2="197.05" y2="301.97" stroke="#000" stroke-width="2.0" />
<line x1="193.55" y1="284.81" x2="200.55" y2="284.81" stroke="#000" stroke-width="2.0" />
<rect x="192.85" y="301.97" width="8.40" height="41.93" fill="#000" stroke="#000" stroke-width="1.8"/>
<line x1="209.25" y1="313.35" x2="209.25" y2="324.96" stroke="#000" stroke-width="2.0" />
<line x1="205.75" y1="313.35" x2="212.75" y2="313.35" stroke="#000" stroke-width="2.0" />
<rect x="205.05" y="324.96" width="8.40" height="18.94" fill="url(#hatch)" stroke="#000" stroke-width="1.8"/>
<line x1="233.90" y1="256.27" x2="233.90" y2="286.12" stroke="#000" stroke-width="2.0" />
<line x1="230.40" y1="256.27" x2="237.40" y2="256.27" stroke="#000" stroke-width="2.0" />
<rect x="229.70" y="286.12" width="8.40" height="57.78" fill="#fff" stroke="#000" stroke-width="1.8"/>
<line x1="246.10" y1="277.41" x2="246.10" y2="303.03" stroke="#000" stroke-width="2.0" />
<line x1="242.60" y1="277.41" x2="249.60" y2="277.41" stroke="#000" stroke-width="2.0" />
<rect x="241.90" y="303.03" width="8.40" height="40.87" fill="#000" stroke="#000" stroke-width="1.8"/>
<line x1="258.30" y1="312.29" x2="258.30" y2="322.58" stroke="#000" stroke-width="2.0" />
<line x1="254.80" y1="312.29" x2="261.80" y2="312.29" stroke="#000" stroke-width="2.0" />
<rect x="254.10" y="322.58" width="8.40" height="21.32" fill="url(#hatch)" stroke="#000" stroke-width="1.8"/>
<line x1="31.50" y1="211.20" x2="31.50" y2="345.00" stroke="#000" stroke-width="2.2" />
<line x1="25.90" y1="343.90" x2="263.40" y2="343.90" stroke="#000" stroke-width="2.2" />
<text transform="translate(26.30,347.40) scale(1.21,1)" font-size="9.75" text-anchor="end" class="s2">0</text>
<line x1="25.90" y1="317.56" x2="31.50" y2="317.56" stroke="#000" stroke-width="2.0" />
<text transform="translate(26.30,321.06) scale(1.21,1)" font-size="9.75" text-anchor="end" class="s2">5</text>
<line x1="25.90" y1="291.22" x2="31.50" y2="291.22" stroke="#000" stroke-width="2.0" />
<text transform="translate(26.30,294.72) scale(1.21,1)" font-size="9.75" text-anchor="end" class="s2">10</text>
<line x1="25.90" y1="264.88" x2="31.50" y2="264.88" stroke="#000" stroke-width="2.0" />
<text transform="translate(26.30,268.38) scale(1.21,1)" font-size="9.75" text-anchor="end" class="s2">15</text>
<line x1="25.90" y1="238.54" x2="31.50" y2="238.54" stroke="#000" stroke-width="2.0" />
<text transform="translate(26.30,242.04) scale(1.21,1)" font-size="9.75" text-anchor="end" class="s2">20</text>
<line x1="25.90" y1="212.20" x2="31.50" y2="212.20" stroke="#000" stroke-width="2.0" />
<text transform="translate(26.30,215.70) scale(1.21,1)" font-size="9.75" text-anchor="end" class="s2">25</text>
<text x="49.35" y="356.20" font-size="8.70" text-anchor="middle" class="s2">Donor</text>
<text x="98.30" y="356.20" font-size="8.70" text-anchor="middle" class="s2">1</text>
<text x="147.00" y="356.20" font-size="8.70" text-anchor="middle" class="s2">3</text>
<text x="195.60" y="356.20" font-size="8.70" text-anchor="middle" class="s2">6</text>
<text x="244.60" y="356.20" font-size="8.70" text-anchor="middle" class="s2">12</text>
<text transform="translate(197.00,366.30) scale(1.02,1)" font-size="8.58" text-anchor="middle" class="s2">months after transplant</text>
<line x1="290.67" y1="219.75" x2="290.67" y2="285.87" stroke="#000" stroke-width="2.0" />
<line x1="287.17" y1="219.75" x2="294.17" y2="219.75" stroke="#000" stroke-width="2.0" />
<rect x="286.30" y="285.87" width="8.75" height="59.33" fill="#fff" stroke="#000" stroke-width="1.8"/>
<line x1="303.05" y1="270.60" x2="303.05" y2="307.48" stroke="#000" stroke-width="2.0" />
<line x1="299.55" y1="270.60" x2="306.55" y2="270.60" stroke="#000" stroke-width="2.0" />
<rect x="298.85" y="307.48" width="8.40" height="37.72" fill="#000" stroke="#000" stroke-width="1.8"/>
<line x1="314.95" y1="307.23" x2="314.95" y2="321.18" stroke="#000" stroke-width="2.0" />
<line x1="311.45" y1="307.23" x2="318.45" y2="307.23" stroke="#000" stroke-width="2.0" />
<rect x="310.75" y="321.18" width="8.40" height="24.02" fill="url(#hatch)" stroke="#000" stroke-width="1.8"/>
<line x1="339.75" y1="295.63" x2="339.75" y2="314.07" stroke="#000" stroke-width="2.0" />
<line x1="336.25" y1="295.63" x2="343.25" y2="295.63" stroke="#000" stroke-width="2.0" />
<rect x="335.55" y="314.07" width="8.40" height="31.13" fill="#fff" stroke="#000" stroke-width="1.8"/>
<line x1="351.95" y1="260.85" x2="351.95" y2="294.57" stroke="#000" stroke-width="2.0" />
<line x1="348.45" y1="260.85" x2="355.45" y2="260.85" stroke="#000" stroke-width="2.0" />
<rect x="347.75" y="294.57" width="8.40" height="50.63" fill="#000" stroke="#000" stroke-width="1.8"/>
<line x1="363.85" y1="320.67" x2="363.85" y2="326.98" stroke="#000" stroke-width="2.0" />
<line x1="360.35" y1="320.67" x2="367.35" y2="320.67" stroke="#000" stroke-width="2.0" />
<rect x="359.65" y="326.98" width="8.40" height="18.22" fill="url(#hatch)" stroke="#000" stroke-width="1.8"/>
<line x1="388.65" y1="276.93" x2="388.65" y2="300.36" stroke="#000" stroke-width="2.0" />
<line x1="385.15" y1="276.93" x2="392.15" y2="276.93" stroke="#000" stroke-width="2.0" />
<rect x="384.45" y="300.36" width="8.40" height="44.84" fill="#fff" stroke="#000" stroke-width="1.8"/>
<line x1="400.85" y1="268.23" x2="400.85" y2="296.94" stroke="#000" stroke-width="2.0" />
<line x1="397.35" y1="268.23" x2="404.35" y2="268.23" stroke="#000" stroke-width="2.0" />
<rect x="396.65" y="296.94" width="8.40" height="48.26" fill="#000" stroke="#000" stroke-width="1.8"/>
<line x1="412.75" y1="310.39" x2="412.75" y2="323.03" stroke="#000" stroke-width="2.0" />
<line x1="409.25" y1="310.39" x2="416.25" y2="310.39" stroke="#000" stroke-width="2.0" />
<rect x="408.55" y="323.03" width="8.40" height="22.17" fill="url(#hatch)" stroke="#000" stroke-width="1.8"/>
<line x1="437.55" y1="260.33" x2="437.55" y2="288.51" stroke="#000" stroke-width="2.0" />
<line x1="434.05" y1="260.33" x2="441.05" y2="260.33" stroke="#000" stroke-width="2.0" />
<rect x="433.35" y="288.51" width="8.40" height="56.69" fill="#fff" stroke="#000" stroke-width="1.8"/>
<line x1="449.75" y1="287.20" x2="449.75" y2="301.15" stroke="#000" stroke-width="2.0" />
<line x1="446.25" y1="287.20" x2="453.25" y2="287.20" stroke="#000" stroke-width="2.0" />
<rect x="445.55" y="301.15" width="8.40" height="44.05" fill="#000" stroke="#000" stroke-width="1.8"/>
<line x1="461.65" y1="301.43" x2="461.65" y2="313.01" stroke="#000" stroke-width="2.0" />
<line x1="458.15" y1="301.43" x2="465.15" y2="301.43" stroke="#000" stroke-width="2.0" />
<rect x="457.45" y="313.01" width="8.40" height="32.19" fill="url(#hatch)" stroke="#000" stroke-width="1.8"/>
<line x1="486.45" y1="255.06" x2="486.45" y2="290.62" stroke="#000" stroke-width="2.0" />
<line x1="482.95" y1="255.06" x2="489.95" y2="255.06" stroke="#000" stroke-width="2.0" />
<rect x="482.25" y="290.62" width="8.40" height="54.58" fill="#fff" stroke="#000" stroke-width="1.8"/>
<line x1="498.65" y1="290.89" x2="498.65" y2="307.48" stroke="#000" stroke-width="2.0" />
<line x1="495.15" y1="290.89" x2="502.15" y2="290.89" stroke="#000" stroke-width="2.0" />
<rect x="494.45" y="307.48" width="8.40" height="37.72" fill="#000" stroke="#000" stroke-width="1.8"/>
<line x1="510.55" y1="308.28" x2="510.55" y2="320.39" stroke="#000" stroke-width="2.0" />
<line x1="507.05" y1="308.28" x2="514.05" y2="308.28" stroke="#000" stroke-width="2.0" />
<rect x="506.35" y="320.39" width="8.40" height="24.81" fill="url(#hatch)" stroke="#000" stroke-width="1.8"/>
<line x1="284.80" y1="212.40" x2="284.80" y2="346.30" stroke="#000" stroke-width="2.2" />
<line x1="279.20" y1="345.20" x2="515.65" y2="345.20" stroke="#000" stroke-width="2.2" />
<text transform="translate(279.60,348.70) scale(1.21,1)" font-size="9.75" text-anchor="end" class="s2">0</text>
<line x1="279.20" y1="318.84" x2="284.80" y2="318.84" stroke="#000" stroke-width="2.0" />
<text transform="translate(279.60,322.34) scale(1.21,1)" font-size="9.75" text-anchor="end" class="s2">5</text>
<line x1="279.20" y1="292.48" x2="284.80" y2="292.48" stroke="#000" stroke-width="2.0" />
<text transform="translate(279.60,295.98) scale(1.21,1)" font-size="9.75" text-anchor="end" class="s2">10</text>
<line x1="279.20" y1="266.12" x2="284.80" y2="266.12" stroke="#000" stroke-width="2.0" />
<text transform="translate(279.60,269.62) scale(1.21,1)" font-size="9.75" text-anchor="end" class="s2">15</text>
<line x1="279.20" y1="239.76" x2="284.80" y2="239.76" stroke="#000" stroke-width="2.0" />
<text transform="translate(279.60,243.26) scale(1.21,1)" font-size="9.75" text-anchor="end" class="s2">20</text>
<line x1="279.20" y1="213.40" x2="284.80" y2="213.40" stroke="#000" stroke-width="2.0" />
<text transform="translate(279.60,216.90) scale(1.21,1)" font-size="9.75" text-anchor="end" class="s2">25</text>
<text x="301.35" y="356.40" font-size="8.70" text-anchor="middle" class="s2">Donor</text>
<text x="350.60" y="356.40" font-size="8.70" text-anchor="middle" class="s2">1</text>
<text x="399.60" y="356.40" font-size="8.70" text-anchor="middle" class="s2">3</text>
<text x="447.60" y="356.40" font-size="8.70" text-anchor="middle" class="s2">6</text>
<text x="497.70" y="356.40" font-size="8.70" text-anchor="middle" class="s2">12</text>
<text transform="translate(448.90,366.50) scale(1.02,1)" font-size="8.58" text-anchor="middle" class="s2">months after transplant</text>
<rect x="319.2" y="209.6" width="16.8" height="7.2" fill="#fff" stroke="#000" stroke-width="2"/>
<text x="340.60" y="217.70" font-size="11.40" text-anchor="start" class="s2">C2 mismatch</text>
<rect x="319.2" y="225.5" width="16.8" height="7.0" fill="#000" stroke="#000" stroke-width="2"/>
<text x="340.60" y="233.50" font-size="11.40" text-anchor="start" class="s2">C1 mismatch</text>
<rect x="319.2" y="242.3" width="16.8" height="6.9" fill="url(#hatch2)" stroke="#000" stroke-width="2"/>
<text x="340.60" y="249.90" font-size="11.40" text-anchor="start" class="s2">Bw4 mismatch</text>
<text x="9.70" y="373.40" font-size="12.95" text-anchor="start" >Figure 6</text>
</svg>
</body></html>
